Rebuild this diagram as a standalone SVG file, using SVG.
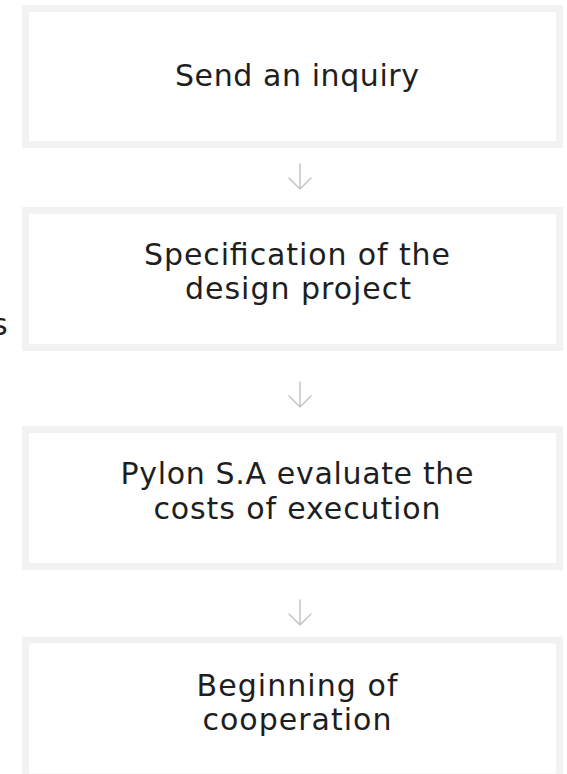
<svg xmlns="http://www.w3.org/2000/svg" width="567" height="774" viewBox="0 0 567 774">
<style>
.box{fill:#ffffff;stroke:#f2f2f2;stroke-width:7}
.lbl{font-family:"DejaVu Sans","Liberation Sans",sans-serif;font-size:30px;fill:#1e1e1e;text-anchor:middle}
.side{font-family:"DejaVu Sans","Liberation Sans",sans-serif;font-size:30px;fill:#1e1e1e}
.arr{fill:none;stroke:#c4c4c4;stroke-width:1.5;stroke-linecap:round;stroke-linejoin:round}
</style>
<rect width="567" height="774" fill="#ffffff"/>
<text class="side" x="-8" y="335">s</text>
<g id="n1">
<rect class="box" x="25.5" y="8.5" width="534" height="136"/>
<text class="lbl" x="297" y="86" textLength="244" lengthAdjust="spacing">Send an inquiry</text>
</g>
<g id="n2">
<rect class="box" x="25.5" y="210.5" width="534" height="137"/>
<text class="lbl" x="297" y="265" textLength="306" lengthAdjust="spacing">Specification of the</text>
<text class="lbl" x="298" y="299" textLength="226" lengthAdjust="spacing">design project</text>
</g>
<g id="n3">
<rect class="box" x="25.5" y="429.5" width="534" height="137"/>
<text class="lbl" x="297" y="484" textLength="353" lengthAdjust="spacing">Pylon S.A evaluate the</text>
<text class="lbl" x="297" y="519" textLength="287" lengthAdjust="spacing">costs of execution</text>
</g>
<g id="n4">
<rect class="box" x="25.5" y="640" width="534" height="137"/>
<text class="lbl" x="297" y="696" textLength="201" lengthAdjust="spacing">Beginning of</text>
<text class="lbl" x="297" y="730" textLength="189" lengthAdjust="spacing">cooperation</text>
</g>
<g id="connectors">
<path class="arr" d="M300 164 V189 M289 178 L300 189 L311 178"/>
<path class="arr" d="M300 382 V407 M289 396 L300 407 L311 396"/>
<path class="arr" d="M300 600 V625 M289 614 L300 625 L311 614"/>
</g>
</svg>
